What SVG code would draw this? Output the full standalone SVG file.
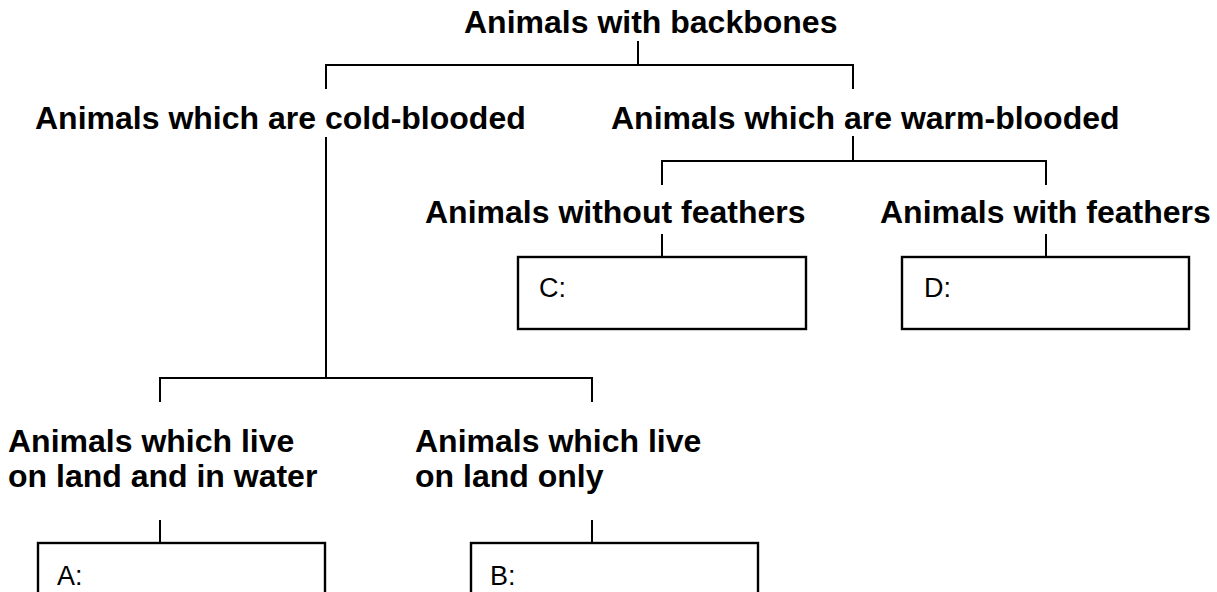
<svg xmlns="http://www.w3.org/2000/svg" width="1217" height="592" viewBox="0 0 1217 592">
<style>
.h{font-family:"Liberation Sans",Arial,sans-serif;font-weight:bold;font-size:32px;fill:#000}
.b{font-family:"Liberation Sans",Arial,sans-serif;font-size:27px;fill:#000}
.c{fill:none;stroke:#000;stroke-width:2}
.box{fill:#fff;stroke:#000;stroke-width:2.4}
</style>
<rect width="1217" height="592" fill="#fff"/>
<g id="connectors" class="c">
<path d="M638,41V65M326,89V65H853V89"/>
<path d="M853,136V161M662,185V161H1046V185"/>
<path d="M662,234V257M1046,234V257"/>
<path d="M326,137V378M160,402V378H592V402"/>
<path d="M160,520V543M592,520V543"/>
</g>
<g id="root"><text class="h" x="464" y="33">Animals with backbones</text></g>
<g id="cold"><text class="h" x="35" y="129">Animals which are cold-blooded</text></g>
<g id="warm"><text class="h" x="611" y="129">Animals which are warm-blooded</text></g>
<g id="nofeathers"><text class="h" x="425" y="223">Animals without feathers</text></g>
<g id="feathers"><text class="h" x="880" y="223">Animals with feathers</text></g>
<g id="landwater"><text class="h" x="8" y="452">Animals which live</text><text class="h" x="8" y="487">on land and in water</text></g>
<g id="landonly"><text class="h" x="415" y="452">Animals which live</text><text class="h" x="415" y="487">on land only</text></g>
<g id="boxC"><rect class="box" x="518" y="257" width="288" height="72"/><text class="b" x="539" y="297">C:</text></g>
<g id="boxD"><rect class="box" x="902" y="257" width="287" height="72"/><text class="b" x="924" y="297">D:</text></g>
<g id="boxA"><rect class="box" x="38" y="543" width="287" height="80"/><text class="b" x="57" y="585">A:</text></g>
<g id="boxB"><rect class="box" x="471" y="543" width="287" height="80"/><text class="b" x="490" y="585">B:</text></g>
</svg>
